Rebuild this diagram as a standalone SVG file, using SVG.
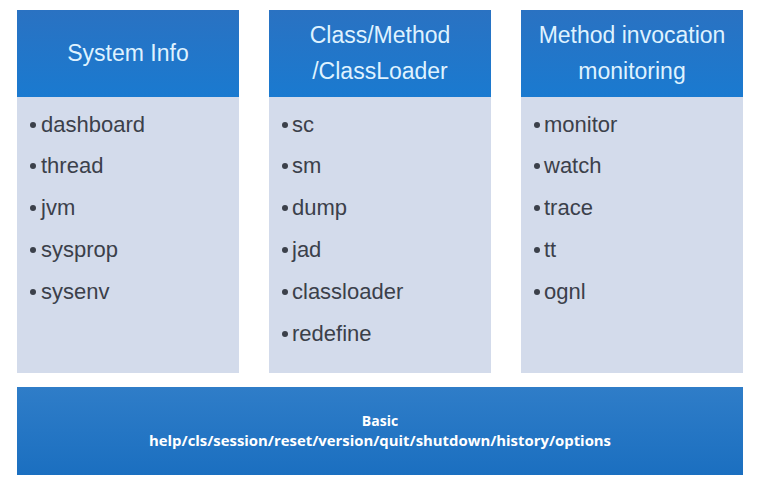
<svg xmlns="http://www.w3.org/2000/svg" width="781" height="485" viewBox="0 0 781 485">
<defs>
<linearGradient id="hg" x1="0" y1="0" x2="0" y2="1">
<stop offset="0" stop-color="#2a72c2"/>
<stop offset="1" stop-color="#1a7ad0"/>
</linearGradient>
<linearGradient id="bg" x1="0" y1="0" x2="0" y2="1">
<stop offset="0" stop-color="#2f7dc8"/>
<stop offset="1" stop-color="#1b6fc0"/>
</linearGradient>
<style>
.hdr{fill:url(#hg)}
.body{fill:#d3dbeb}
.ht{font-family:"Liberation Sans",Arial,sans-serif;font-size:23px;fill:#dff2ff;text-anchor:middle}
.it{font-family:"Liberation Sans",Arial,sans-serif;font-size:22px;fill:#3b404a}
.bul{fill:#3b404a}
.bt{font-family:"Open Sans","Liberation Sans",sans-serif;font-weight:bold;font-size:14px;fill:#ffffff;text-anchor:middle}
</style>
</defs>
<rect width="781" height="485" fill="#ffffff"/>
<g id="system-info">
<rect class="body" x="17" y="97" width="222" height="276"/>
<rect class="hdr" x="17" y="10" width="222" height="87"/>
<text class="ht" x="128" y="61">System Info</text>
<circle class="bul" cx="33" cy="125" r="3"/><text class="it" x="41" y="132">dashboard</text>
<circle class="bul" cx="33" cy="166" r="3"/><text class="it" x="41" y="173">thread</text>
<circle class="bul" cx="33" cy="208" r="3"/><text class="it" x="41" y="215">jvm</text>
<circle class="bul" cx="33" cy="250" r="3"/><text class="it" x="41" y="257">sysprop</text>
<circle class="bul" cx="33" cy="292" r="3"/><text class="it" x="41" y="299">sysenv</text>
</g>
<g id="class-method">
<rect class="body" x="269" y="97" width="222" height="276"/>
<rect class="hdr" x="269" y="10" width="222" height="87"/>
<text class="ht" x="380" y="43">Class/Method</text>
<text class="ht" x="380" y="79">/ClassLoader</text>
<circle class="bul" cx="285" cy="125" r="3"/><text class="it" x="292" y="132">sc</text>
<circle class="bul" cx="285" cy="166" r="3"/><text class="it" x="292" y="173">sm</text>
<circle class="bul" cx="285" cy="208" r="3"/><text class="it" x="292" y="215">dump</text>
<circle class="bul" cx="285" cy="250" r="3"/><text class="it" x="292" y="257">jad</text>
<circle class="bul" cx="285" cy="292" r="3"/><text class="it" x="292" y="299">classloader</text>
<circle class="bul" cx="285" cy="334" r="3"/><text class="it" x="292" y="341">redefine</text>
</g>
<g id="method-invocation">
<rect class="body" x="521" y="97" width="222" height="276"/>
<rect class="hdr" x="521" y="10" width="222" height="87"/>
<text class="ht" x="632" y="43">Method invocation</text>
<text class="ht" x="632" y="79">monitoring</text>
<circle class="bul" cx="537" cy="125" r="3"/><text class="it" x="544" y="132">monitor</text>
<circle class="bul" cx="537" cy="166" r="3"/><text class="it" x="544" y="173">watch</text>
<circle class="bul" cx="537" cy="208" r="3"/><text class="it" x="544" y="215">trace</text>
<circle class="bul" cx="537" cy="250" r="3"/><text class="it" x="544" y="257">tt</text>
<circle class="bul" cx="537" cy="292" r="3"/><text class="it" x="544" y="299">ognl</text>
</g>
<g id="basic">
<rect x="17" y="387" width="726" height="88" fill="url(#bg)"/>
<text class="bt" x="380" y="426">Basic</text>
<text class="bt" x="380" y="446" textLength="462" lengthAdjust="spacingAndGlyphs">help/cls/session/reset/version/quit/shutdown/history/options</text>
</g>
<g id="connectors"/>
</svg>
